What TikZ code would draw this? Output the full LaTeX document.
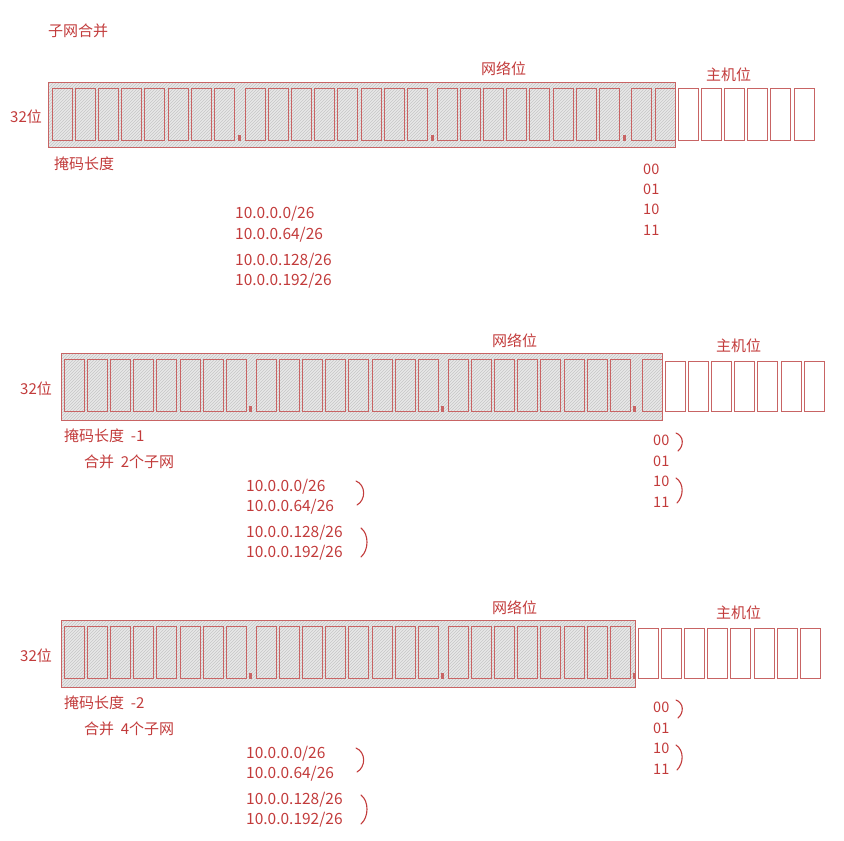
\documentclass[tikz,border=0pt]{standalone}
\usepackage{fontspec}
\setmainfont{Noto Sans CJK SC}
\usetikzlibrary{patterns}
\definecolor{rd}{HTML}{C23B3B}
\definecolor{bx}{HTML}{C86464}
\begin{document}
\begin{tikzpicture}[x=1pt,y=-1pt,
  txt/.style={text=rd,font=\fontsize{15}{16}\selectfont,inner sep=0pt,anchor=west},
  bits/.style={text=rd,font=\fontsize{14.5}{15}\selectfont\itshape,inner sep=0pt,anchor=west},
  addr/.style={text=rd,font=\fontsize{15.5}{16}\selectfont,inner sep=0pt,anchor=west},
  band/.style={draw=bx,line width=0.8pt,fill=gray!18,postaction={pattern=north east lines,pattern color=gray!45}},
  cell/.style={draw=bx,line width=0.8pt},
  dotm/.style={fill=bx,draw=none},
  brk/.style={draw=rd,line width=1.1pt,line cap=round}]
\useasboundingbox (0,0) rectangle (844,841);
\node[txt] (title) at (48,31) {子网合并};
% ---------- row 1
\draw[band] (48,82) rectangle (675,147);
\draw[bx,line width=0.8pt] (48,82) rectangle (675,147);
\foreach \s in {52,245,437}{
  \foreach \i in {0,...,7}{\draw[cell] ({\s+23.2*\i},88) rectangle ({\s+23.2*\i+20},140);}
  \fill[dotm] ({\s+186},135) rectangle ({\s+189},141);}
\foreach \x in {631,655}{\draw[cell] (\x,88) rectangle (\x+20,140);}
\foreach \i in {0,...,5}{\draw[cell] ({678+23.2*\i},88) rectangle ({678+23.2*\i+20},140);}
\node[txt] (a1) at (10,117) {32位};
\node[txt] (b1) at (481,69) {网络位};
\node[txt] (c1) at (706,75) {主机位};
\node[txt] (d1) at (54,164) {掩码长度};
\foreach \t/\y in {00/169,01/189,10/209,11/230}{\node[bits] at (643,\y) {\t};}
\node[addr] (e1) at (235,214) {10.0.0.0/26};
\node[addr] (e2) at (235,235) {10.0.0.64/26};
\node[addr] (e3) at (235,261) {10.0.0.128/26};
\node[addr] (e4) at (235,281) {10.0.0.192/26};
% ---------- rows 2 and 3
\foreach \dy/\nh/\ext/\hx/\lab/\cnt in {0/7/1/665/-1/2,267/8/0/638/-2/4}{
  \draw[band] (61,353+\dy) rectangle ({\ext==1 ? 662 : 635},420+\dy);
  \draw[bx,line width=0.8pt] (61,353+\dy) rectangle ({\ext==1 ? 662 : 635},420+\dy);
  \foreach \s in {64,256,448}{
    \foreach \i in {0,...,7}{\draw[cell] ({\s+23.2*\i},359+\dy) rectangle ({\s+23.2*\i+20},411+\dy);}
    \fill[dotm] ({\s+185},406+\dy) rectangle ({\s+188},412+\dy);}
  \ifnum\ext=1 \draw[cell] (642,359+\dy) rectangle (662,411+\dy); \fi
  \foreach \i in {1,...,\nh}{\draw[cell] ({\hx+23.2*(\i-1)},361+\dy) rectangle ({\hx+23.2*(\i-1)+20},411+\dy);}
  \node[txt] at (20,389+\dy) {32位};
  \node[txt] at (492,341+\dy) {网络位};
  \node[txt] at (716,346+\dy) {主机位};
  \node[txt] at (64,436+\dy) {掩码长度\ \ \lab};
  \node[txt] at (84,462+\dy) {合并\ \ \cnt 个子网};
  \foreach \t/\y in {00/440,01/461,10/481,11/502}{\node[bits] at (653,\y+\dy) {\t};}
  \draw[brk] (676,433+\dy) .. controls (684,436+\dy) and (684,446+\dy) .. (678,451+\dy);
  \draw[brk] (676,478+\dy) .. controls (684,483+\dy) and (684,496+\dy) .. (677,503+\dy);
  \node[addr] at (246,487+\dy) {10.0.0.0/26};
  \node[addr] at (246,507+\dy) {10.0.0.64/26};
  \node[addr] at (246,533+\dy) {10.0.0.128/26};
  \node[addr] at (246,553+\dy) {10.0.0.192/26};
  \draw[brk] (356,481+\dy) .. controls (366,485+\dy) and (366,500+\dy) .. (357,505+\dy);
  \draw[brk] (361,528+\dy) .. controls (369,534+\dy) and (369,550+\dy) .. (361,557+\dy);
}
\end{tikzpicture}
\end{document}
